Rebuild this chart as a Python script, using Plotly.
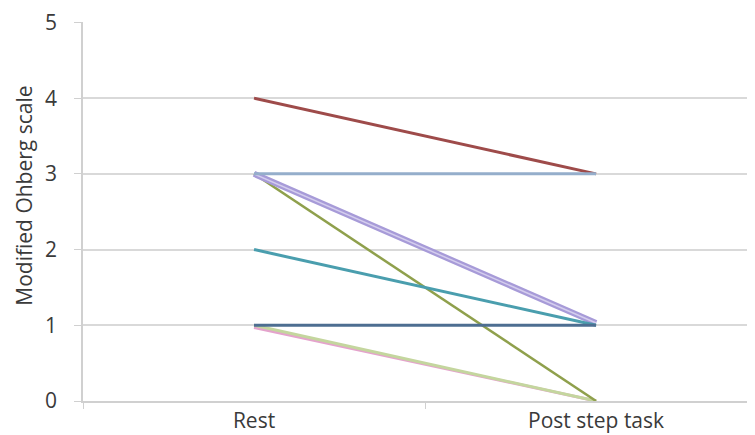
import plotly.graph_objects as go

categories = ["Rest", "Post step task"]
series_names = ["P1", "P2", "P3", "P4", "P5", "P6", "P7", "P8"]
rest_values = [4, 3, 3, 3, 2, 1, 1, 0.97]
post_values = [3, 3, 1.03, 0, 1, 1, 0, 0]
colors = ["#9E4B4A", "#95AECB", "#A79BD8", "#8FA04C", "#4A9EAE", "#4D6E91", "#C4D69E", "#E4A3CC"]
widths = [3, 3, 6, 2.5, 3, 3, 3, 3]
draw_order = [7, 6, 3, 2, 4, 0, 1, 5]
y_title = "Modified Ohberg scale"

fig = go.Figure()
for i in draw_order:
    fig.add_trace(go.Scatter(
        x=categories, y=[rest_values[i], post_values[i]],
        mode="lines", name=series_names[i],
        line=dict(color=colors[i], width=widths[i]),
        showlegend=False, hoverinfo="skip"))
    if i == 2:
        fig.add_trace(go.Scatter(
            x=categories, y=[rest_values[i], post_values[i]],
            mode="lines", line=dict(color="#D4CDEE", width=1.5),
            showlegend=False, hoverinfo="skip"))

txt = "#3A3A3A"
fig.update_layout(
    width=755, height=435,
    margin=dict(l=75, r=0, t=11, b=42),
    paper_bgcolor="white", plot_bgcolor="white",
    font=dict(family="Open Sans, DejaVu Sans, sans-serif", color=txt),
    xaxis=dict(
        type="category", range=[-0.5, 1.488],
        showgrid=False, showline=True, linecolor="#D0D0D0", linewidth=1.5,
        ticks="outside", tickson="boundaries", ticklen=6, tickcolor="#D0D0D0",
        tickfont=dict(size=21, color=txt),
    ),
    yaxis=dict(
        range=[0, 5.006], tickvals=[0, 1, 2, 3, 4, 5],
        showgrid=True, gridcolor="#D9D9D9", gridwidth=1.5,
        showline=True, linecolor="#D0D0D0", linewidth=1.5,
        ticks="outside", ticklen=7, tickcolor="#D0D0D0",
        ticklabelstandoff=13, ticklabeloverflow="allow",
        tickfont=dict(size=21, color=txt), zeroline=False,
    ),
    annotations=[dict(
        text=y_title, textangle=-90, xref="paper", yref="paper",
        x=-0.088, y=0.542, xanchor="center", yanchor="middle",
        showarrow=False, font=dict(size=21, color=txt),
    )],
)

fig.write_html("out.html")
